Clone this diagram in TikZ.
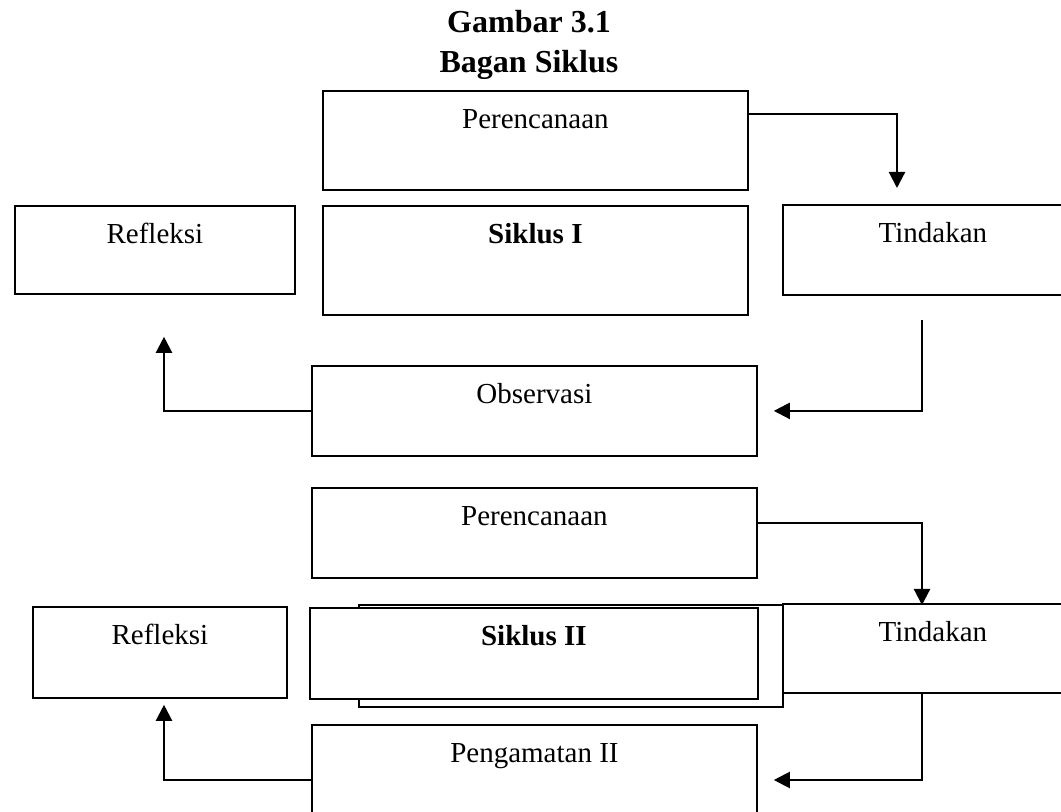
\documentclass[tikz,border=0pt]{standalone}
\usepackage{fontspec}
\setmainfont{Liberation Serif}
\usetikzlibrary{arrows.meta,calc}
\tikzstyle{kotak} = [rectangle, draw=black, line width=0.9pt, anchor=north west, inner sep=0pt, text height=19pt, font=\fontsize{14.5}{17}\selectfont]
\tikzstyle{panah} = [line width=1.1pt, -{Triangle[length=8pt,width=8pt]}]

\begin{document}
\begin{tikzpicture}[x=0.5pt, y=-0.5pt]
        \useasboundingbox (0,0) rectangle (1061,812);
        % Judul
        \node (judul) [anchor=north, inner sep=0pt, align=center, font=\fontsize{16}{20}\selectfont\bfseries] at (529,10) {Gambar 3.1\\Bagan Siklus};

        % Siklus I
        \node (ren1) [kotak, minimum width=212.5pt, text depth=30.5pt] at (322,90) {Perencanaan};
        \node (ref1) [kotak, minimum width=140pt, text depth=25pt] at (14,205) {Refleksi};
        \node (sik1) [kotak, minimum width=212.5pt, text depth=35.5pt] at (322,205) {\textbf{Siklus I}};
        \node (tin1) [kotak, minimum width=150pt, text depth=26pt] at (782,204) {Tindakan};
        \node (obs) [kotak, minimum width=222.5pt, text depth=26pt] at (311,365) {Observasi};

        % Siklus II
        \node (ren2) [kotak, minimum width=222.5pt, text depth=26pt] at (311,487) {Perencanaan};
        \node (ref2) [kotak, minimum width=127pt, text depth=26.5pt] at (32,606) {Refleksi};
        \node (sik2b) [kotak, minimum width=212pt, minimum height=51pt] at (358,604) {};
        \node (sik2) [kotak, fill=white, minimum width=224pt, text depth=26.5pt] at (309,607) {\textbf{Siklus II}};
        \node (tin2) [kotak, minimum width=150pt, text depth=25.5pt] at (782,603) {Tindakan};
        \node (pen) [kotak, minimum width=222.5pt, text depth=29pt] at (311,724) {Pengamatan II};

        % Garis
        \draw [panah] ($(ren1.north east)+(0,24)$) -| ($(tin1.north west)+(115,-16)$);
        \draw [panah] ($(tin1.south west)+(140,24)$) |- ($(obs.east)+(16,0)$);
        \draw [panah] (obs.west) -| ($(ref1.south west)+(150,42)$);
        \draw [panah] ($(ren2.north east)+(0,36)$) -| ($(tin2.north west)+(140,2)$);
        \draw [panah] ($(tin2.south west)+(140,0)$) |- ($(pen.north east)+(16,56)$);
        \draw [panah] ($(pen.north west)+(0,56)$) -| ($(ref2.south west)+(132,6)$);
    \end{tikzpicture}
\end{document}
